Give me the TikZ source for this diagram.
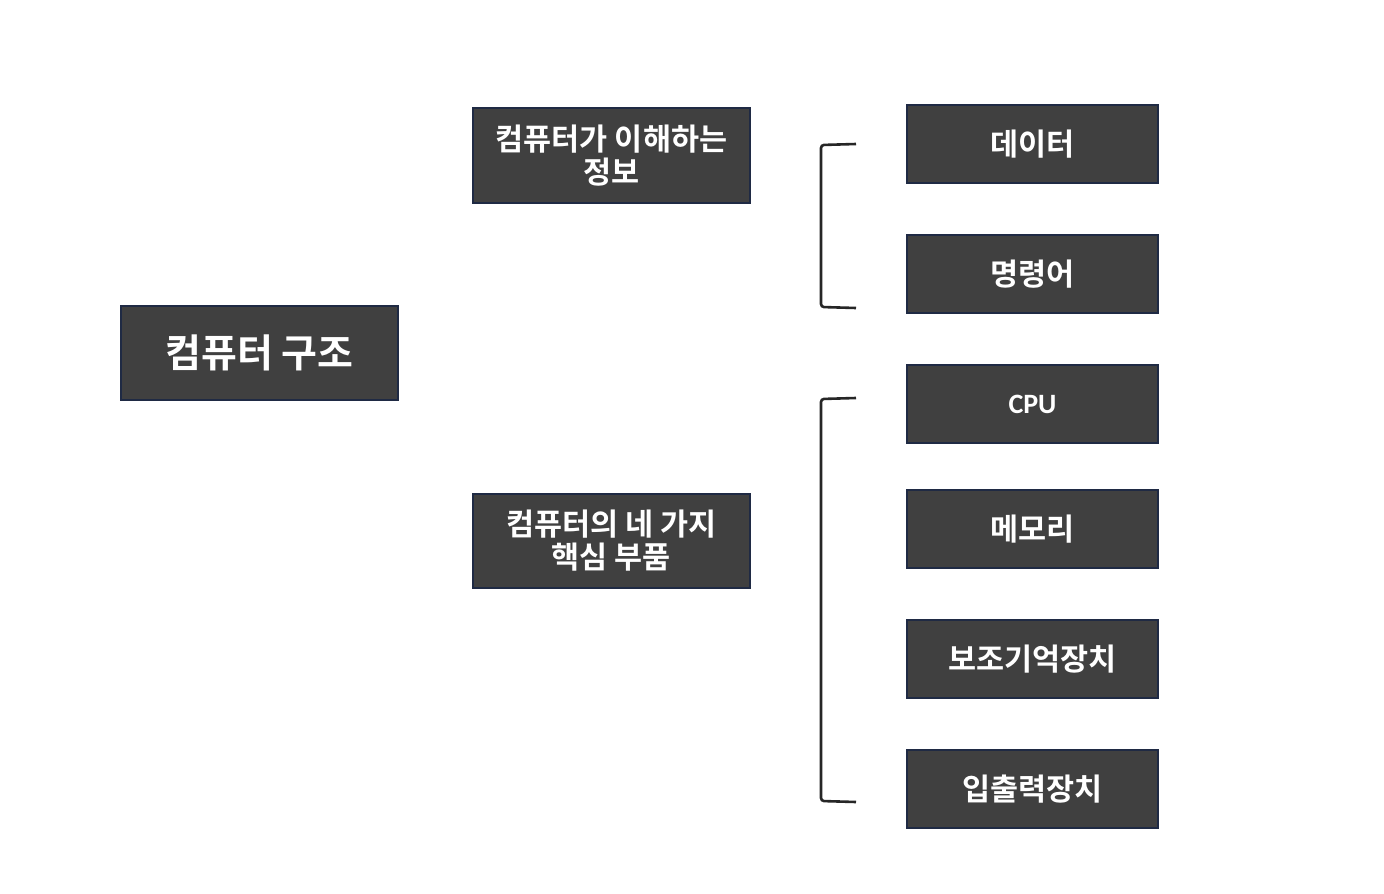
\documentclass[tikz,border=0pt]{standalone}
\usepackage{fontspec}
\setmainfont{Noto Sans CJK KR}[BoldFont={Noto Sans CJK KR Bold}]
\newfontfamily\latinfont{Carlito}
\definecolor{boxfill}{HTML}{404040}
\definecolor{boxline}{HTML}{1F2A44}
\definecolor{brk}{HTML}{262626}
\begin{document}
\begin{tikzpicture}[x=1pt,y=-1pt,
  box/.style={draw=boxline,line width=1.6pt,fill=boxfill,text=white,font=\bfseries,align=center,inner sep=0pt},
  bracket/.style={draw=brk,line width=2.6pt,rounded corners=3pt}]
\useasboundingbox (0,0) rectangle (1384,894);
\fill[white] (0,0) rectangle (1384,894);
\node[box,minimum width=277pt,minimum height=94pt,font=\bfseries\fontsize{39}{42}\selectfont] (root) at (259.5,353) {컴퓨터 구조};
\node[box,minimum width=277pt,minimum height=95pt,font=\bfseries\fontsize{30.5}{33}\selectfont] (info) at (611.5,155.5) {컴퓨터가 이해하는\\정보};
\node[box,minimum width=277pt,minimum height=94pt,font=\bfseries\fontsize{30.5}{33}\selectfont] (parts) at (611.5,541) {컴퓨터의 네 가지\\핵심 부품};
\tikzset{rbox/.style={box,minimum width=251pt,minimum height=78pt,font=\bfseries\fontsize{30.5}{33}\selectfont}}
\node[rbox] (data) at (1032.5,144) {데이터};
\node[rbox] (inst) at (1032.5,274) {명령어};
\node[rbox,font=\latinfont\bfseries\fontsize{28}{33}\selectfont] (cpu) at (1032.5,404) {CPU};
\node[rbox] (mem) at (1032.5,529) {메모리};
\node[rbox] (aux) at (1032.5,659) {보조기억장치};
\node[rbox] (io) at (1032.5,789) {입출력장치};
\coordinate (b1t) at (856,144);
\coordinate (b1b) at (856,308);
\coordinate (b2t) at (856,398);
\coordinate (b2b) at (856,802);
\draw[bracket] (b1t) -- (821,145) -- (821,307) -- (b1b);
\draw[bracket] (b2t) -- (821,399) -- (821,801) -- (b2b);
\end{tikzpicture}
\end{document}
